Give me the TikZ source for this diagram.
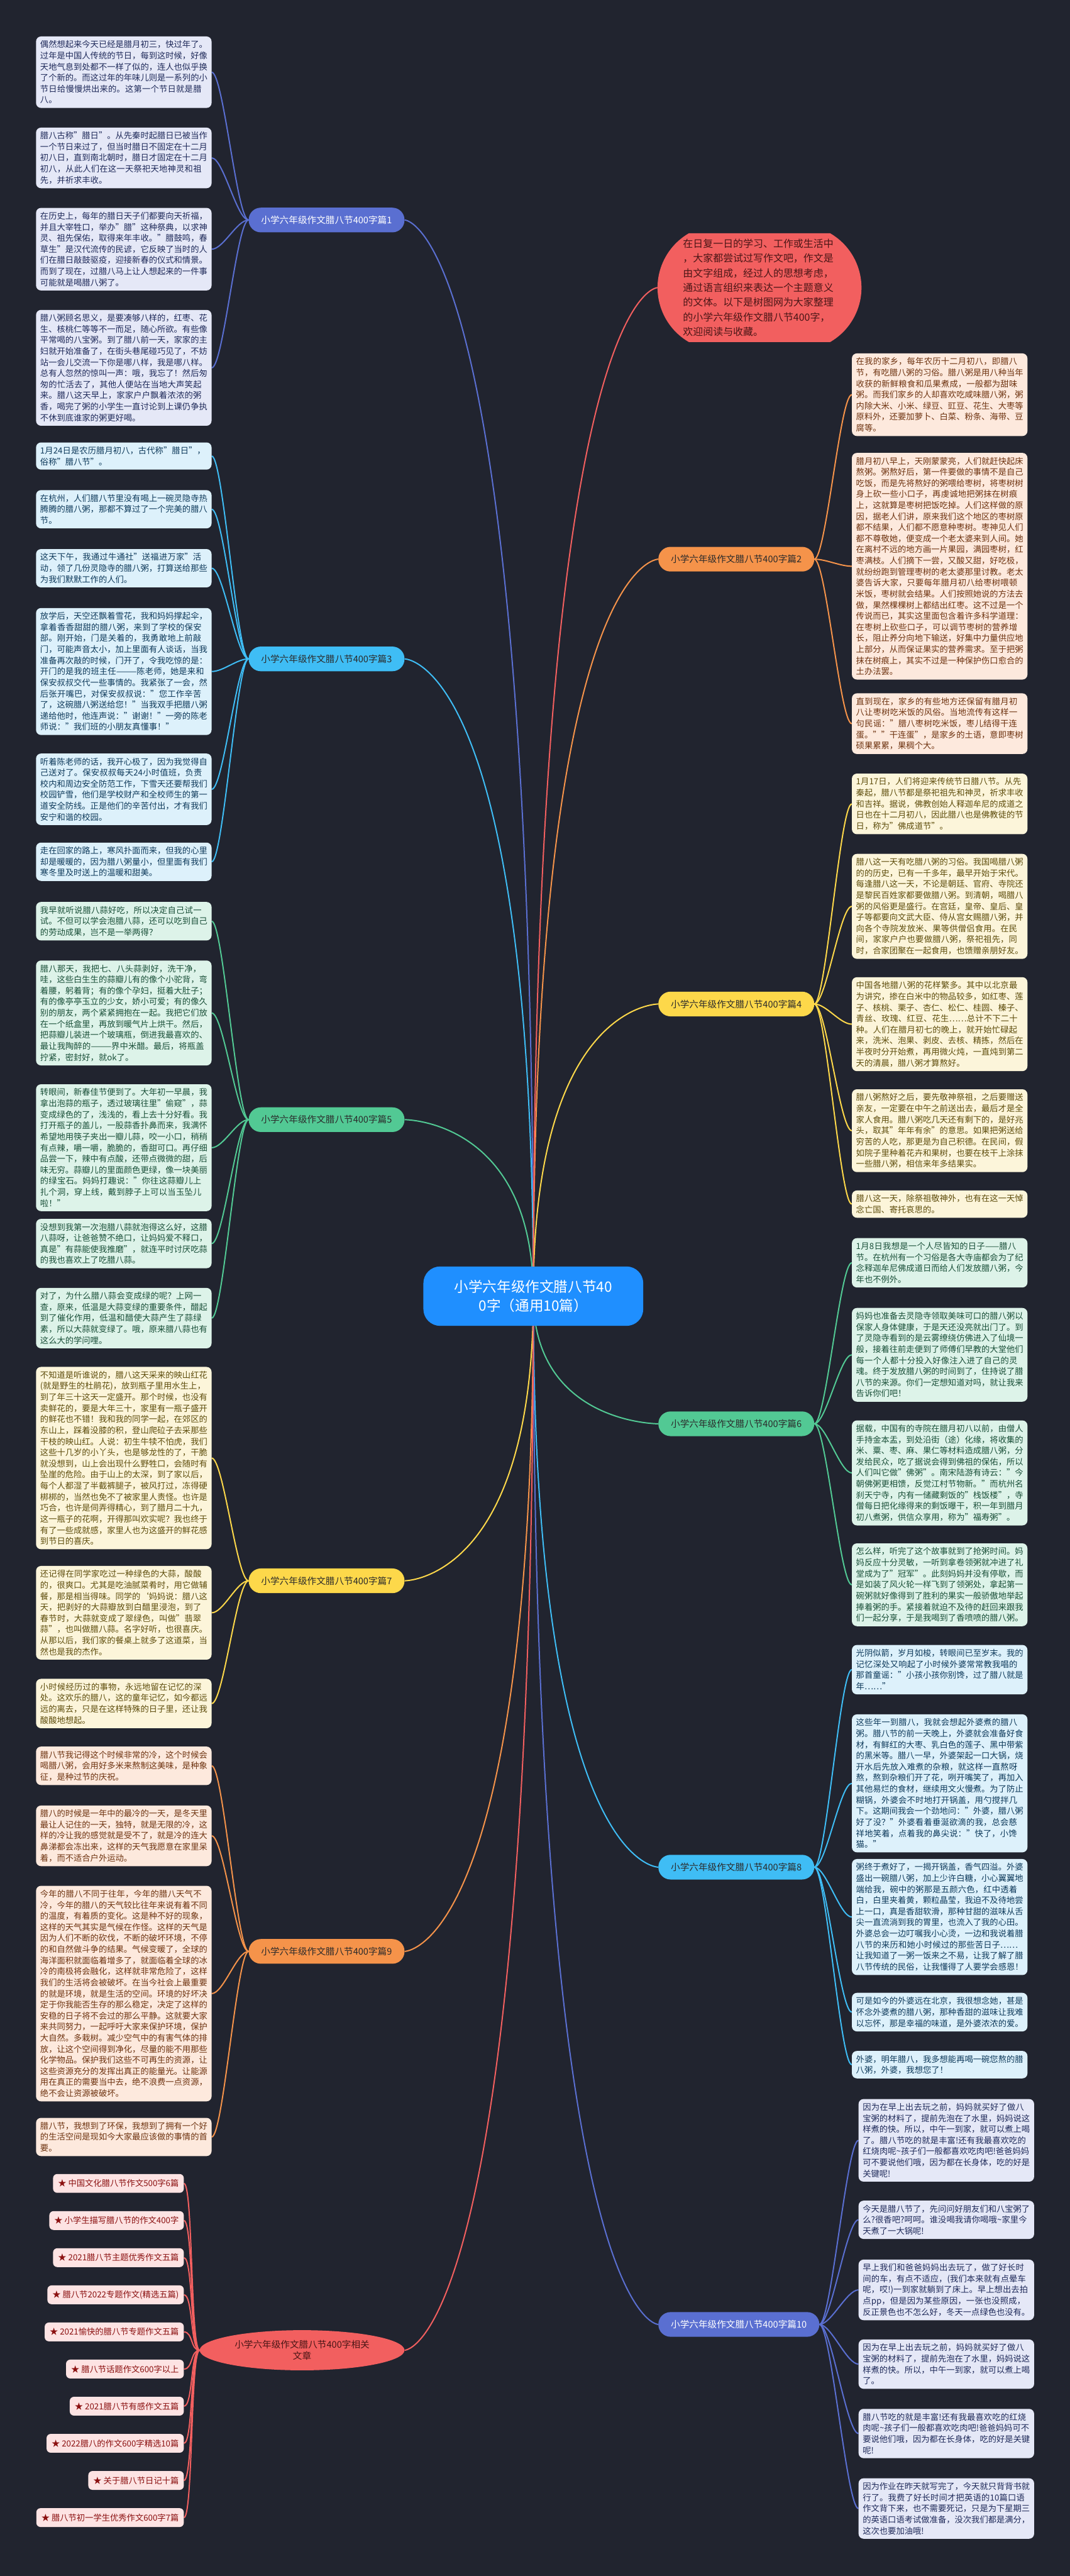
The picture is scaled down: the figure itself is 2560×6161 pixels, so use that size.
\documentclass[tikz,border=0pt]{standalone}
\usepackage{fontspec}
\setmainfont{Noto Sans CJK SC}
\XeTeXlinebreaklocale "zh"
\XeTeXlinebreakskip=0pt plus 1pt
\usetikzlibrary{calc,shapes.geometric,shapes.misc}
\definecolor{bgc}{HTML}{21242F}
\definecolor{indL}{HTML}{5A6FD1}\definecolor{indF}{HTML}{E5E8F7}\definecolor{indT}{HTML}{1F2A5A}
\definecolor{cyaL}{HTML}{3FBDF5}\definecolor{cyaF}{HTML}{DDF1FB}\definecolor{cyaT}{HTML}{0E3A5B}
\definecolor{grnL}{HTML}{52C994}\definecolor{grnF}{HTML}{DDF3E9}\definecolor{grnT}{HTML}{194F38}
\definecolor{yelL}{HTML}{FDD84A}\definecolor{yelF}{HTML}{FCF5DA}\definecolor{yelT}{HTML}{5E4D0C}
\definecolor{orgL}{HTML}{F5934A}\definecolor{orgF}{HTML}{FDE9DD}\definecolor{orgT}{HTML}{6E3310}
\definecolor{redL}{HTML}{F25F5F}\definecolor{redF}{HTML}{FDE3E3}\definecolor{redT}{HTML}{8B1010}
\definecolor{ctrF}{HTML}{1F8FFF}\definecolor{darkT}{HTML}{2B2B2B}\definecolor{introT}{HTML}{4A1616}
\pgfdeclarelayer{edges}
\pgfsetlayers{edges,main}
\begin{document}
\begin{tikzpicture}[x=1pt, y=-1pt,
	leaf/.style={rectangle, rounded corners=12pt, inner xsep=10pt, inner ysep=10pt,
		text width=400pt, align=left, anchor=north west, font=\fontsize{20}{26.5}\selectfont},
	br/.style={rectangle, rounded corners=29pt, text=darkT, inner xsep=30pt,
		minimum height=59pt, font=\fontsize{22}{26}\selectfont},
	rel/.style={rectangle, rounded corners=10pt, fill=redF, text=redT, inner xsep=12pt,
		minimum height=45pt, anchor=east, font=\fontsize{20}{24}\selectfont},
	lk/.style={line width=3pt}]
\begin{pgfonlayer}{edges}
\fill[bgc] (0,0) rectangle (2560,6161);
\end{pgfonlayer}
\useasboundingbox (0,0) rectangle (2560,6161);
\coordinate (lx) at (968,0);
\coordinate (rx) at (1575,0);
%
\node[rectangle, rounded corners=40pt, fill=ctrF, text=white, align=center,
	minimum width=526pt, minimum height=142pt, font=\fontsize{34}{44}\selectfont]
	(ctr) at (1276,3100) {小学六年级作文腊八节40\\0字（通用10篇）};
\node[rounded rectangle, rounded rectangle arc length=120, fill=redL, text=introT,
	text width=366pt, align=left, inner xsep=6pt, inner ysep=14pt, anchor=west,
	font=\fontsize{24}{35}\selectfont]
	(intro) at (1573,688) {在日复一日的学习、工作或生活中\\，大家都尝试过写作文吧，作文是\\由文字组成，经过人的思想考虑，\\通过语言组织来表达一个主题意义\\的文体。以下是树图网为大家整理\\的小学六年级作文腊八节400字，\\欢迎阅读与收藏。};
%
\foreach[count=\i] \y/\t in {
	87/{偶然想起来今天已经是腊月初三，快过年了。过年是中国人传统的节日，每到这时候，好像天地气息到处都不一样了似的，连人也似乎换了个新的。而这过年的年味儿则是一系列的小节日给慢慢烘出来的。这第一个节日就是腊八。}
	,305/{腊八古称"腊日"。从先秦时起腊日已被当作一个节日来过了，但当时腊日不固定在十二月初八日，直到南北朝时，腊日才固定在十二月初八，从此人们在这一天祭祀天地神灵和祖先，并祈求丰收。}
	,497/{在历史上，每年的腊日天子们都要向天祈福，并且大宰牲口，举办"腊"这种祭典，以求神灵、祖先保佑，取得来年丰收。"腊鼓鸣，春草生"是汉代流传的民谚，它反映了当时的人们在腊日敲鼓驱疫，迎接新春的仪式和情景。而到了现在，过腊八马上让人想起来的一件事可能就是喝腊八粥了。}
	,741/{腊八粥顾名思义，是要凑够八样的，红枣、花生、核桃仁等等不一而足，随心所欲。有些像平常喝的八宝粥。到了腊八前一天，家家的主妇就开始准备了，在街头巷尾碰巧见了，不妨站一会儿交流一下你是哪八样，我是哪八样。总有人忽然的惊叫一声：哦，我忘了！然后匆匆的忙活去了，其他人便站在当地大声笑起来。腊八这天早上，家家户户飘着浓浓的粥香，喝完了粥的小学生一直讨论到上课仍争执不休到底谁家的粥更好喝。}
}{
	\node[leaf, fill=indF, text=indT] (p1-\i) at (86,\y) {\t};
}
\coordinate (m1) at ($(p1-1.east)!.5!(p1-4.east)$);
\node[br, fill=indL, text=white, anchor=east] (b1) at (m1 -| lx) {小学六年级作文腊八节400字篇1};
%
\foreach[count=\i] \y/\t in {
	1058/{1月24日是农历腊月初八，古代称"腊日"，俗称"腊八节"。}
	,1172/{在杭州，人们腊八节里没有喝上一碗灵隐寺热腾腾的腊八粥，那都不算过了一个完美的腊八节。}
	,1313/{这天下午，我通过牛通社"送福进万家"活动，领了几份灵隐寺的腊八粥，打算送给那些为我们默默工作的人们。}
	,1454/{放学后，天空还飘着雪花，我和妈妈撑起伞，拿着香香甜甜的腊八粥，来到了学校的保安部。刚开始，门是关着的，我勇敢地上前敲门，可能声音太小，加上里面有人谈话，当我准备再次敲的时候，门开了，令我吃惊的是：开门的是我的班主任———陈老师，她是来和保安叔叔交代一些事情的。我紧张了一会，然后张开嘴巴，对保安叔叔说："您工作辛苦了，这碗腊八粥送给您！"当我双手把腊八粥递给他时，他连声说："谢谢！"一旁的陈老师说："我们班的小朋友真懂事！"}
	,1802/{听着陈老师的话，我开心极了，因为我觉得自己送对了。保安叔叔每天24小时值班，负责校内和周边安全防范工作，下雪天还要帮我们校园铲雪，他们是学校财产和全校师生的第一道安全防线。正是他们的辛苦付出，才有我们安宁和谐的校园。}
	,2015/{走在回家的路上，寒风扑面而来，但我的心里却是暖暖的，因为腊八粥量小，但里面有我们寒冬里及时送上的温暖和甜美。}
}{
	\node[leaf, fill=cyaF, text=cyaT] (p3-\i) at (86,\y) {\t};
}
\coordinate (m3) at ($(p3-1.east)!.5!(p3-6.east)$);
\node[br, fill=cyaL, anchor=east] (b3) at (m3 -| lx) {小学六年级作文腊八节400字篇3};
%
\foreach[count=\i] \y/\t in {
	2157/{我早就听说腊八蒜好吃，所以决定自己试一试。不但可以学会泡腊八蒜，还可以吃到自己的劳动成果，岂不是一举两得？}
	,2297/{腊八那天，我把七、八头蒜剥好，洗干净，哇，这些白生生的蒜瓣儿有的像个小驼背，弯着腰，躬着背；有的像个孕妇，挺着大肚子；有的像亭亭玉立的少女，娇小可爱；有的像久别的朋友，两个紧紧拥抱在一起。我把它们放在一个纸盒里，再放到暖气片上烘干。然后，把蒜瓣儿装进一个玻璃瓶，倒进我最喜欢的、最让我陶醉的———界中米醋。最后，将瓶盖拧紧，密封好，就ok了。}
	,2593/{转眼间，新春佳节便到了。大年初一早晨，我拿出泡蒜的瓶子，透过玻璃往里"偷窥"，蒜变成绿色的了，浅浅的，看上去十分好看。我打开瓶子的盖儿，一股蒜香扑鼻而来，我满怀希望地用筷子夹出一瓣儿蒜，咬一小口，稍稍有点辣，嚼一嚼，脆脆的，香甜可口。再仔细品尝一下，辣中有点酸，还带点微微的甜，后味无穷。蒜瓣儿的里面颜色更绿，像一块美丽的绿宝石。妈妈打趣说："你往这蒜瓣儿上扎个洞，穿上线，戴到脖子上可以当玉坠儿啦！"}
	,2915/{没想到我第一次泡腊八蒜就泡得这么好，这腊八蒜呀，让爸爸赞不绝口，让妈妈爱不释口，真是"有蒜能使我推磨"，就连平时讨厌吃蒜的我也喜欢上了吃腊八蒜。}
	,3080/{对了，为什么腊八蒜会变成绿的呢？上网一查，原来，低温是大蒜变绿的重要条件，醋起到了催化作用，低温和醋使大蒜产生了蒜绿素，所以大蒜就变绿了。哦，原来腊八蒜也有这么大的学问哩。}
}{
	\node[leaf, fill=grnF, text=grnT] (p5-\i) at (86,\y) {\t};
}
\coordinate (m5) at ($(p5-1.east)!.5!(p5-5.east)$);
\node[br, fill=grnL, anchor=east] (b5) at (m5 -| lx) {小学六年级作文腊八节400字篇5};
%
\foreach[count=\i] \y/\t in {
	3269/{不知道是听谁说的，腊八这天采来的映山红花(就是野生的杜鹃花)，放到瓶子里用水生上，到了年三十这天一定盛开。那个时候，也没有卖鲜花的，要是大年三十，家里有一瓶子盛开的鲜花也不错！我和我的同学一起，在郊区的东山上，踩着没膝的积，登山爬砬子去采那些干枝的映山红。人说：初生牛犊不怕虎，我们这些十几岁的小丫头，也是够龙性的了，干脆就没想到，山上会出现什么野牲口，会随时有坠崖的危险。由于山上的太深，到了家以后，每个人都湿了半截裤腿子，被风打过，冻得硬梆梆的，当然也免不了被家里人责怪。也许是巧合，也许是伺弄得精心，到了腊月二十九，这一瓶子的花啊，开得那叫欢实呢？我也终于有了一些成就感，家里人也为这盛开的鲜花感到节日的喜庆。}
	,3745/{还记得在同学家吃过一种绿色的大蒜，酸酸的，很爽口。尤其是吃油腻菜肴时，用它做辅餐，那是相当得味。同学的`妈妈说：腊八这天，把剥好的大蒜瓣放到白醋里浸泡，到了春节时，大蒜就变成了翠绿色，叫做"翡翠蒜"，也叫做腊八蒜。名字好听，也很喜庆。从那以后，我们家的餐桌上就多了这道菜，当然也是我的杰作。}
	,4015/{小时候经历过的事物，永远地留在记忆的深处。这欢乐的腊八，这的童年记忆，如今都远远的离去，只是在这样特殊的日子里，还让我酸酸地想起。}
}{
	\node[leaf, fill=yelF, text=yelT] (p7-\i) at (86,\y) {\t};
}
\coordinate (m7) at ($(p7-1.east)!.5!(p7-3.east)$);
\node[br, fill=yelL, anchor=east] (b7) at (m7 -| lx) {小学六年级作文腊八节400字篇7};
%
\foreach[count=\i] \y/\t in {
	4177/{腊八节我记得这个时候非常的冷，这个时候会喝腊八粥，会用好多米来熬制这美味，是种象征，是种过节的庆祝。}
	,4318/{腊八的时候是一年中的最冷的一天，是冬天里最让人记住的一天，独特，就是无限的冷，这样的冷让我的感觉就是受不了，就是冷的连大鼻涕都会冻出来，这样的天气我愿意在家里呆着，而不适合户外运动。}
	,4510/{今年的腊八不同于往年，今年的腊八天气不冷，今年的腊八的天气较比往年来说有着不同的温度，有着质的变化。这是种不好的现象，这样的天气其实是气候在作怪。这样的天气是因为人们不断的砍伐，不断的破坏环境，不停的和自然做斗争的结果。气候变暖了，全球的海洋面积就面临着增多了，就面临着全球的冰冷的南极将会融化，这样就非常危险了，这样我们的生活将会被破坏。在当今社会上最重要的就是环境，就是生活的空间。环境的好坏决定于你我能否生存的那么稳定，决定了这样的安稳的日子将不会过的那么平静。这就要大家来共同努力，一起呼吁大家来保护环境，保护大自然。多栽树。减少空气中的有害气体的排放，让这个空间得到净化，尽量的能不用那些化学物品。保护我们这些不可再生的资源，让这些资源充分的发挥出真正的能量光。让能源用在真正的需要当中去，绝不浪费一点资源，绝不会让资源被破坏。}
	,5065/{腊八节，我想到了环保，我想到了拥有一个好的生活空间是现如今大家最应该做的事情的首要。}
}{
	\node[leaf, fill=orgF, text=orgT] (p9-\i) at (86,\y) {\t};
}
\coordinate (m9) at ($(p9-1.east)!.5!(p9-4.east)$);
\node[br, fill=orgL, anchor=east] (b9) at (m9 -| lx) {小学六年级作文腊八节400字篇9};
%
\foreach[count=\i] \t in {
	中国文化腊八节作文500字6篇
	,小学生描写腊八节的作文400字
	,2021腊八节主题优秀作文五篇
	,腊八节2022专题作文(精选五篇)
	,2021愉快的腊八节专题作文五篇
	,腊八节话题作文600字以上
	,2021腊八节有感作文五篇
	,2022腊八的作文600字精选10篇
	,关于腊八节日记十篇
	,腊八节初一学生优秀作文600字7篇
}{
	\node[rel] (r\i) at (440,{5133.2+88.8*\i}) {★ \t};
}
\node[ellipse, fill=redL, text=introT, align=center, inner sep=0pt, minimum width=490pt,
	minimum height=96pt, anchor=east, font=\fontsize{22}{28}\selectfont]
	(rc) at (968,5621) {小学六年级作文腊八节400字相关\\文章};
%
\foreach[count=\i] \y/\t in {
	845/{在我的家乡，每年农历十二月初八，即腊八节，有吃腊八粥的习俗。腊八粥是用八种当年收获的新鲜粮食和瓜果煮成，一般都为甜味粥。而我们家乡的人却喜欢吃咸味腊八粥，粥内除大米、小米、绿豆、豇豆、花生、大枣等原料外，还要加萝卜、白菜、粉条、海带、豆腐等。}
	,1083/{腊月初八早上，天刚蒙蒙亮，人们就赶快起床熬粥。粥熬好后，第一件要做的事情不是自己吃饭，而是先将熬好的粥喂给枣树，将枣树树身上砍一些小口子，再虔诚地把粥抹在树痕上，这就算是枣树把饭吃掉。人们这样做的原因，据老人们讲，原来我们这个地区的枣树原都不结果，人们都不愿意种枣树。枣神见人们都不尊敬她，便变成一个老太婆来到人间。她在离村不远的地方画一片果园，满园枣树，红枣满枝。人们摘下一尝，又酸又甜，好吃极，就纷纷跑到管理枣树的老太婆那里讨教。老太婆告诉大家，只要每年腊月初八给枣树喂顿米饭，枣树就会结果。人们按照她说的方法去做，果然棵棵树上都结出红枣。这不过是一个传说而已，其实这里面包含着许多科学道理：在枣树上砍些口子，可以调节枣树的营养增长，阻止养分向地下输送，好集中力量供应地上部分，从而保证果实的营养需求。至于把粥抹在树痕上，其实不过是一种保护伤口愈合的土办法罢。}
	,1658/{直到现在，家乡的有些地方还保留有腊月初八让枣树吃米饭的风俗。当地流传有这样一句民谣："腊八枣树吃米饭，枣儿结得干连蛋。""干连蛋"，是家乡的土语，意即枣树硕果累累，果稠个大。}
}{
	\node[leaf, fill=orgF, text=orgT] (p2-\i) at (2038,\y) {\t};
}
\coordinate (m2) at ($(p2-1.west)!.5!(p2-3.west)$);
\node[br, fill=orgL, anchor=west] (b2) at (m2 -| rx) {小学六年级作文腊八节400字篇2};
%
\foreach[count=\i] \y/\t in {
	1850/{1月17日，人们将迎来传统节日腊八节。从先秦起，腊八节都是祭祀祖先和神灵，祈求丰收和吉祥。据说，佛教创始人释迦牟尼的成道之日也在十二月初八，因此腊八也是佛教徒的节日，称为"佛成道节"。}
	,2042/{腊八这一天有吃腊八粥的习俗。我国喝腊八粥的的历史，已有一千多年，最早开始于宋代。每逢腊八这一天，不论是朝廷、官府、寺院还是黎民百姓家都要做腊八粥。到清朝，喝腊八粥的风俗更是盛行。在宫廷，皇帝、皇后、皇子等都要向文武大臣、侍从宫女赐腊八粥，并向各个寺院发放米、果等供僧侣食用。在民间，家家户户也要做腊八粥，祭祀祖先，同时，合家团聚在一起食用，也馈赠亲朋好友。}
	,2337/{中国各地腊八粥的花样繁多。其中以北京最为讲究，掺在白米中的物品较多，如红枣、莲子、核桃、栗子、杏仁、松仁、桂圆、榛子、青丝、玫瑰、红豆、花生……总计不下二十种。人们在腊月初七的晚上，就开始忙碌起来，洗米、泡果、剥皮、去核、精拣，然后在半夜时分开始煮，再用微火炖，一直炖到第二天的清晨，腊八粥才算熬好。}
	,2605/{腊八粥熬好之后，要先敬神祭祖，之后要赠送亲友，一定要在中午之前送出去，最后才是全家人食用。腊八粥吃几天还有剩下的，是好兆头，取其"年年有余"的意思。如果把粥送给穷苦的人吃，那更是为自己积德。在民间，假如院子里种着花卉和果树，也要在枝干上涂抹一些腊八粥，相信来年多结果实。}
	,2847/{腊八这一天，除祭祖敬神外，也有在这一天悼念亡国、寄托哀思的。}
}{
	\node[leaf, fill=yelF, text=yelT] (p4-\i) at (2038,\y) {\t};
}
\coordinate (m4) at ($(p4-1.west)!.5!(p4-5.west)$);
\node[br, fill=yelL, anchor=west] (b4) at (m4 -| rx) {小学六年级作文腊八节400字篇4};
%
\foreach[count=\i] \y/\t in {
	2961/{1月8日我想是一个人尽皆知的日子——腊八节。在杭州有一个习俗是各大寺庙都会为了纪念释迦牟尼佛成道日而给人们发放腊八粥，今年也不例外。}
	,3128/{妈妈也准备去灵隐寺领取美味可口的腊八粥以保家人身体健康，于是天还没亮就出门了。到了灵隐寺看到的是云雾缭绕仿佛进入了仙境一般，接着往前走便到了师傅们早教的大堂他们每一个人都十分投入好像注入进了自己的灵魂。终于发放腊八粥的时间到了，住持说了腊八节的来源。你们一定想知道对吗，就让我来告诉你们吧！}
	,3397/{据载，中国有的寺院在腊月初八以前，由僧人手持金本盂，到处沿街（途）化缘，将收集的米、粟、枣、麻、果仁等材料造成腊八粥，分发给民众，吃了据说会得到佛祖的保佑，所以人们叫它做"佛粥"。南宋陆游有诗云："今朝佛粥更相馈，反觉江村节物新。"而杭州名刹天宁寺，内有一储藏剩饭的"栈饭楼"，寺僧每日把化缘得来的剩饭曝干，积一年到腊月初八煮粥，供信众享用，称为"福寿粥"。}
	,3691/{怎么样，听完了这个故事就到了抢粥时间。妈妈反应十分灵敏，一听到拿卷领粥就冲进了礼堂成为了"冠军"。此刻妈妈并没有停歇，而是如装了风火轮一样飞到了领粥处，拿起第一碗粥就好像得到了胜利的果实一般骄傲地举起捧着粥的手。紧接着就迫不及待的赶回来跟我们一起分享，于是我喝到了香喷喷的腊八粥。}
}{
	\node[leaf, fill=grnF, text=grnT] (p6-\i) at (2038,\y) {\t};
}
\coordinate (m6) at ($(p6-1.west)!.5!(p6-4.west)$);
\node[br, fill=grnL, anchor=west] (b6) at (m6 -| rx) {小学六年级作文腊八节400字篇6};
%
\foreach[count=\i] \y/\t in {
	3934/{光阴似箭，岁月如梭，转眼间已至岁末。我的记忆深处又响起了小时候外婆常常教我唱的那首童谣："小孩小孩你别馋，过了腊八就是年……"}
	,4100/{这些年一到腊八，我就会想起外婆煮的腊八粥。腊八节的前一天晚上，外婆就会准备好食材，有鲜红的大枣、乳白色的莲子、黑中带紫的黑米等。腊八一早，外婆架起一口大锅，烧开水后先放入难煮的杂粮，就这样一直熬呀熬，熬到杂粮们开了花，咧开嘴笑了，再加入其他易烂的食材，继续用文火慢煮。为了防止糊锅，外婆会不时地打开锅盖，用勺搅拌几下。这期间我会一个劲地问："外婆，腊八粥好了没？"外婆看着垂涎欲滴的我，总会慈祥地笑着，点着我的鼻尖说："快了，小馋猫。"}
	,4446/{粥终于煮好了，一揭开锅盖，香气四溢。外婆盛出一碗腊八粥，加上少许白糖，小心翼翼地端给我，碗中的粥那是五颜六色，红中透着白，白里夹着黄，颗粒晶莹，我迫不及待地尝上一口，真是香甜软滑，那种甘甜的滋味从舌尖一直流淌到我的胃里，也流入了我的心田。外婆总会一边叮嘱我小心烫，一边和我说着腊八节的来历和她小时候过的那些苦日子……让我知道了一粥一饭来之不易，让我了解了腊八节传统的民俗，让我懂得了人要学会感恩！}
	,4766/{可是如今的外婆远在北京，我很想念她，甚是怀念外婆煮的腊八粥，那种香甜的滋味让我难以忘怀，那是幸福的味道，是外婆浓浓的爱。}
	,4905/{外婆，明年腊八，我多想能再喝一碗您熬的腊八粥，外婆，我想您了！}
}{
	\node[leaf, fill=cyaF, text=cyaT] (p8-\i) at (2038,\y) {\t};
}
\coordinate (m8) at ($(p8-1.west)!.5!(p8-5.west)$);
\node[br, fill=cyaL, anchor=west] (b8) at (m8 -| rx) {小学六年级作文腊八节400字篇8};
%
\foreach[count=\i] \y/\t in {
	5020/{因为在早上出去玩之前，妈妈就买好了做八宝粥的材料了，提前先泡在了水里，妈妈说这样煮的快。所以，中午一到家，就可以煮上喝了。腊八节吃的就是丰富!还有我最喜欢吃的红烧肉呢\textasciitilde 孩子们一般都喜欢吃肉吧!爸爸妈妈可不要说他们哦，因为都在长身体，吃的好是关键呢!}
	,5263/{今天是腊八节了，先问问好朋友们和八宝粥了么?很香吧?呵呵。谁没喝我请你喝哦\textasciitilde 家里今天煮了一大锅呢!}
	,5404/{早上我们和爸爸妈妈出去玩了，做了好长时间的车，有点不适应，(我们本来就有点晕车呢，哎!)一到家就躺到了床上。早上想出去拍点pp，但是因为某些原因，一张也没照成，反正景色也不怎么好，冬天一点绿色也没有。}
	,5595/{因为在早上出去玩之前，妈妈就买好了做八宝粥的材料了，提前先泡在了水里，妈妈说这样煮的快。所以，中午一到家，就可以煮上喝了。}
	,5761/{腊八节吃的就是丰富!还有我最喜欢吃的红烧肉呢\textasciitilde 孩子们一般都喜欢吃肉吧!爸爸妈妈可不要说他们哦，因为都在长身体，吃的好是关键呢!}
	,5927/{因为作业在昨天就写完了，今天就只背背书就行了。我费了好长时间才把英语的10篇口语作文背下来，也不需要死记，只是为下星期三的英语口语考试做准备，没次我们都是满分，这次也要加油哦!}
}{
	\node[leaf, fill=indF, text=indT] (p10-\i) at (2054,\y) {\t};
}
\coordinate (m10) at ($(p10-1.west)!.5!(p10-6.west)$);
\node[br, fill=indL, text=white, anchor=west] (b10) at (m10 -| rx) {小学六年级作文腊八节400字篇10};
%
\begin{pgfonlayer}{edges}
\foreach \k/\n/\c in {1/4/indL, 3/6/cyaL, 5/5/grnL, 7/3/yelL, 9/4/orgL}{
	\foreach \i in {1,...,\n}{
		\draw[lk, \c] (b\k.west) .. controls +(-28,0) and +(28,0) .. (p\k-\i.east);
	}
	\draw[lk, \c] (ctr.center) .. controls (ctr.center |- b\k.east) and (b\k.east) .. (b\k.east);
}
\foreach \k/\n/\c in {2/3/orgL, 4/5/yelL, 6/4/grnL, 8/5/cyaL, 10/6/indL}{
	\foreach \i in {1,...,\n}{
		\draw[lk, \c] (b\k.east) .. controls +(28,0) and +(-28,0) .. (p\k-\i.west);
	}
	\draw[lk, \c] (ctr.center) .. controls (ctr.center |- b\k.west) and (b\k.west) .. (b\k.west);
}
\foreach \i in {1,...,10}{
	\draw[lk, redL] (rc.west) .. controls +(-22,0) and +(22,0) .. (r\i.east);
}
\draw[lk, redL] (ctr.center) .. controls (ctr.center |- rc.east) and (rc.east) .. (rc.east);
\draw[lk, redL] (ctr.center) .. controls (ctr.center |- intro.west) and (intro.west) .. (intro.west);
\end{pgfonlayer}
\end{tikzpicture}
\end{document}
